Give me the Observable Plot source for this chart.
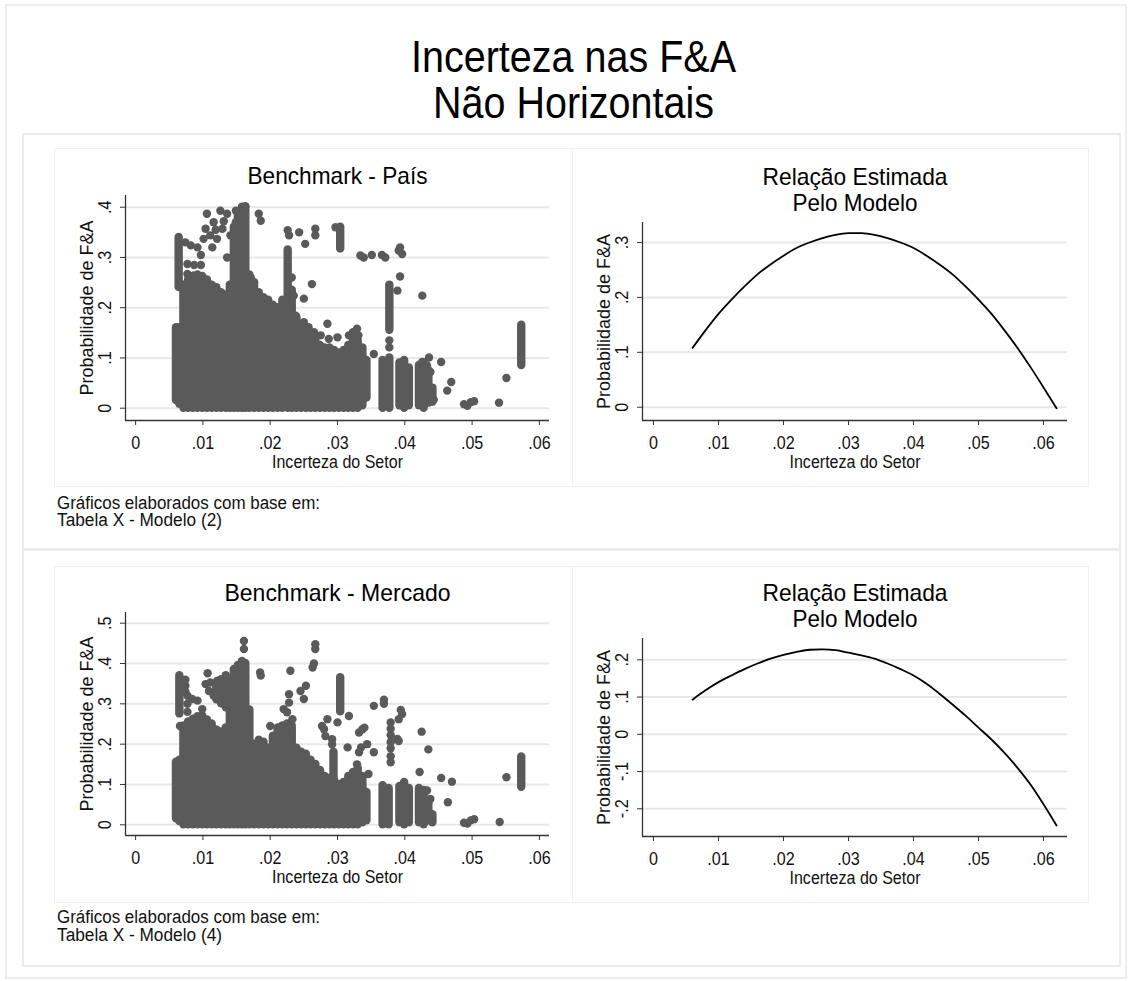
<!DOCTYPE html>
<html><head><meta charset="utf-8">
<script src="https://cdn.jsdelivr.net/npm/d3@7"></script>
<script src="https://cdn.jsdelivr.net/npm/@observablehq/plot@0.6"></script>
<style>
html,body{margin:0;padding:0;background:#fff;}
#root{position:relative;width:1131px;height:981px;overflow:hidden;font-family:"Liberation Sans",Arial,sans-serif;}
.box{position:absolute;box-sizing:border-box;}
.cell{position:absolute;}
</style></head><body><div id="root"></div>
<script>
// ---------------- DATA ----------------
const mainTitle = ["Incerteza nas F&A", "Não Horizontais"];
const panelTitles = ["Benchmark - País", "Relação Estimada\nPelo Modelo", "Benchmark - Mercado", "Relação Estimada\nPelo Modelo"];
const notes1 = ["Gráficos elaborados com base em:", "Tabela X - Modelo (2)"];
const notes2 = ["Gráficos elaborados com base em:", "Tabela X - Modelo (4)"];
const xTitle = "Incerteza do Setor";
const yTitle = "Probabilidade de F&A";

const xTicks = [0, 0.01, 0.02, 0.03, 0.04, 0.05, 0.06];
const paisYTicks = [0, 0.1, 0.2, 0.3, 0.4];
const paisFitYTicks = [0, 0.1, 0.2, 0.3];
const mercadoYTicks = [0, 0.1, 0.2, 0.3, 0.4, 0.5];
const mercadoFitYTicks = [-0.2, -0.1, 0, 0.1, 0.2];

// scatter: vertical runs of overlapping points [x, yLow, yHigh]
const paisStripes = [
  [0.006,0.015,0.16],[0.0065,0.008,0.16],[0.0064,0.24,0.34],[0.0071,0,0.245],[0.0078,0,0.255],
  [0.0085,0,0.262],[0.0092,0,0.265],[0.0099,0,0.262],[0.0106,0,0.255],[0.0113,0,0.245],
  [0.012,0,0.24],[0.0127,0,0.23],[0.0134,0,0.225],[0.014,0,0.245],[0.0146,0,0.36],
  [0.0152,0,0.385],[0.0158,0,0.40],[0.0163,0,0.40],[0.0169,0,0.265],[0.0176,0,0.25],
  [0.0183,0,0.23],[0.019,0,0.22],[0.0197,0,0.215],[0.0204,0,0.205],[0.0211,0,0.2],
  [0.0218,0,0.215],[0.0226,0,0.315],[0.0232,0,0.235],[0.0239,0,0.18],[0.0246,0,0.165],
  [0.0253,0,0.15],[0.026,0,0.145],[0.0267,0,0.14],[0.0274,0,0.125],[0.0281,0,0.12],
  [0.0288,0,0.12],[0.0295,0,0.115],[0.0302,0,0.11],[0.0309,0,0.115],[0.0316,0,0.125],
  [0.0323,0,0.15],[0.033,0,0.135],[0.0337,0.005,0.12],[0.0343,0.02,0.095],
  [0.0304,0.317,0.36],[0.0367,0,0.095],[0.0377,0,0.10],[0.0377,0.155,0.245],
  [0.0392,0.005,0.09],[0.0399,0,0.095],[0.0406,0.005,0.08],[0.0421,0.005,0.085],
  [0.0428,0,0.09],[0.0435,0.01,0.075],[0.0441,0.012,0.04],[0.0573,0.085,0.165]
];
const paisDots = [
  [0.0074,0.33],[0.0082,0.324],[0.0092,0.32],[0.0097,0.305],[0.0077,0.287],[0.0087,0.285],
  [0.0097,0.285],[0.0077,0.267],[0.0087,0.264],
  [0.0106,0.387],[0.0126,0.393],[0.0136,0.387],[0.0149,0.393],[0.0163,0.402],[0.0116,0.37],
  [0.0104,0.357],[0.0101,0.337],[0.0111,0.344],[0.0121,0.337],[0.0114,0.32],[0.0129,0.357],
  [0.0141,0.344],[0.0149,0.37],[0.0156,0.377],[0.0136,0.30],[0.0183,0.387],[0.0186,0.373],
  [0.0131,0.372],[0.0119,0.355],
  [0.0171,0.26],[0.0176,0.25],[0.0186,0.22],[0.0196,0.21],
  [0.0228,0.344],[0.0226,0.354],[0.0243,0.35],[0.0252,0.327],[0.0267,0.357],[0.0267,0.344],
  [0.0297,0.36],[0.0262,0.247],[0.025,0.218],[0.0235,0.224],[0.0238,0.184],[0.0232,0.26],
  [0.025,0.171],[0.0257,0.161],[0.0265,0.151],[0.0275,0.145],[0.0285,0.168],[0.0287,0.138],
  [0.03,0.141],[0.0317,0.145],[0.0329,0.158],[0.0331,0.145],
  [0.0334,0.304],[0.0339,0.30],[0.0351,0.305],[0.0366,0.305],[0.0371,0.30],[0.0391,0.314],
  [0.0396,0.307],[0.0393,0.32],
  [0.0393,0.262],[0.0389,0.234],[0.0377,0.135],[0.0377,0.121],[0.0354,0.108],[0.0426,0.224],
  [0.0436,0.101],[0.0454,0.092],[0.0438,0.072],[0.0443,0.017],[0.0463,0.035],[0.0469,0.052],
  [0.0488,0.008],[0.0493,0.005],[0.0498,0.012],[0.0503,0.014],[0.054,0.011],[0.0551,0.06],
  [0.0426,0.092],[0.0433,0.085]
];
const mercadoStripes = [
  [0.006,0.015,0.155],[0.0065,0.008,0.16],[0.0065,0.275,0.37],[0.0071,0,0.245],[0.0078,0,0.255],
  [0.0085,0,0.262],[0.0092,0,0.268],[0.0099,0,0.27],[0.0106,0,0.26],[0.0113,0,0.25],
  [0.012,0,0.235],[0.0127,0,0.23],[0.0134,0,0.24],[0.012,0.31,0.345],[0.0127,0.30,0.36],
  [0.0134,0.29,0.37],[0.014,0,0.34],[0.0146,0,0.385],[0.0152,0,0.395],[0.0158,0,0.405],
  [0.0163,0,0.40],[0.0169,0,0.285],[0.0176,0,0.2],[0.0183,0,0.21],[0.019,0,0.205],
  [0.0197,0,0.19],[0.0204,0,0.22],[0.0211,0,0.24],[0.0218,0,0.245],[0.0225,0,0.25],
  [0.0232,0,0.245],[0.0239,0,0.19],[0.0246,0,0.18],[0.0253,0,0.175],[0.026,0,0.16],
  [0.0267,0,0.15],[0.0274,0,0.135],[0.0281,0,0.12],[0.0288,0,0.115],[0.0295,0,0.11],
  [0.0302,0,0.1],[0.0309,0,0.105],[0.0316,0,0.12],[0.0323,0,0.13],[0.033,0,0.14],
  [0.0337,0.005,0.12],[0.0343,0.01,0.08],[0.0304,0.28,0.365],[0.0294,0.11,0.18],
  [0.0367,0,0.097],[0.0376,0,0.09],[0.0392,0.005,0.095],[0.0399,0,0.105],[0.0406,0.005,0.09],
  [0.0421,0.005,0.09],[0.0428,0,0.085],[0.0435,0.01,0.06],[0.0441,0.005,0.025],[0.0573,0.093,0.168]
];
const mercadoDots = [
  [0.0074,0.36],[0.0074,0.345],[0.0074,0.33],[0.0077,0.32],[0.0077,0.30],[0.0077,0.28],
  [0.0084,0.312],[0.0092,0.308],[0.0099,0.287],[0.0066,0.245],[0.0107,0.376],[0.0104,0.349],
  [0.0111,0.353],[0.0109,0.332],[0.0116,0.32],[0.0121,0.357],[0.0161,0.436],[0.0161,0.456],
  [0.0185,0.378],[0.0186,0.37],[0.02,0.245],
  [0.023,0.382],[0.0267,0.448],[0.0267,0.436],[0.0265,0.40],[0.0263,0.39],[0.0253,0.345],
  [0.0245,0.332],[0.025,0.312],[0.0228,0.324],[0.0228,0.303],[0.022,0.287],[0.0225,0.279],
  [0.0233,0.262],
  [0.0317,0.27],[0.03,0.254],[0.0285,0.262],[0.0277,0.245],[0.028,0.237],[0.0282,0.22],
  [0.0292,0.212],[0.0292,0.2],[0.0315,0.192],[0.0335,0.192],[0.0332,0.18],[0.0329,0.15],
  [0.0332,0.229],[0.0337,0.237],[0.034,0.241],[0.0344,0.2],[0.0354,0.18],[0.0346,0.126],
  [0.0354,0.295],[0.0369,0.31],[0.0369,0.30],[0.0394,0.285],[0.0396,0.275],[0.0391,0.262],
  [0.0389,0.213],[0.0391,0.208],
  [0.0379,0.254],[0.0379,0.238],[0.0379,0.222],[0.0379,0.205],[0.0379,0.19],[0.0379,0.17],[0.0379,0.155],
  [0.0425,0.231],[0.0435,0.187],[0.0422,0.131],[0.0454,0.116],[0.047,0.107],[0.0464,0.056],
  [0.0438,0.064],[0.0488,0.005],[0.0493,0.003],[0.0498,0.011],[0.0503,0.014],[0.0541,0.007],
  [0.0551,0.118],[0.0433,0.085]
];

// estimated relation
const modelX = [0.006,0.008,0.010,0.012,0.014,0.016,0.018,0.020,0.022,0.024,0.026,0.028,0.030,0.032,0.034,
  0.036,0.038,0.040,0.042,0.044,0.046,0.048,0.050,0.052,0.054,0.056,0.058,0.060,0.062];
const paisFit = [0.108,0.140,0.170,0.196,0.220,0.242,0.260,0.276,0.290,0.300,0.308,0.314,0.317,0.317,0.314,
  0.308,0.300,0.290,0.276,0.260,0.242,0.220,0.196,0.170,0.140,0.108,0.073,0.036,-0.002];
const mercadoFit = [0.093,0.118,0.140,0.158,0.175,0.190,0.203,0.213,0.221,0.227,0.228,0.226,0.219,0.212,0.203,
  0.190,0.175,0.158,0.136,0.109,0.080,0.050,0.018,-0.014,-0.050,-0.090,-0.135,-0.188,-0.245];

// ---------------- STYLE ----------------
const FONT = "'Liberation Sans', Arial, Helvetica, sans-serif";
const DOT = "#5a5a5a", GRID = "#e7e7e7", AXIS = "#333333", BORDER = "#ececec";
const textWidths = {
  "Incerteza nas F&A": 325, "Não Horizontais": 281,
  "Gráficos elaborados com base em:": 263, "Tabela X - Modelo (2)": 165, "Tabela X - Modelo (4)": 165,
  "Benchmark - País": 180, "Benchmark - Mercado": 226, "Relação Estimada": 185, "Pelo Modelo": 125,
  "Incerteza do Setor": 131, "Probabilidade de F&A": 175
};
const fmt = d => d === 0 ? "0" : (d < 0 ? "-" : "") + String(Math.abs(d)).replace(/^0/, "");

const root = document.getElementById("root");
function box(l, t, w, h, border) {
  const d = document.createElement("div");
  d.className = "box";
  Object.assign(d.style, {left: l + "px", top: t + "px", width: w + "px", height: h + "px", border});
  root.appendChild(d);
}
box(5, 4, 1122, 975, "2px solid #eeeeee");
box(22, 133, 1099, 417, "2px solid " + BORDER);
box(22, 549, 1099, 418, "2px solid " + BORDER);
box(54, 148, 1035, 339, "1px solid #f0f0f0");
box(54, 566, 1035, 337, "1px solid #f0f0f0");
box(572, 148, 1, 339, "none"); root.lastChild.style.background = "#f0f0f0";
box(572, 566, 1, 337, "none"); root.lastChild.style.background = "#f0f0f0";

function panel(cfg) {
  const {left, top, width, height, m, xDomain, yDomain, yTicks, title, data} = cfg;
  const marks = [
    Plot.ruleY(yTicks, {stroke: GRID, strokeWidth: 2}),
    ...data,
    Plot.ruleX([xDomain[0]], {stroke: AXIS, strokeWidth: 1.3}),
    Plot.ruleY([yDomain[0]], {stroke: AXIS, strokeWidth: 1.3}),
    Plot.axisX(xTicks, {tickSize: 5, tickFormat: () => "", stroke: AXIS, label: null}),
    Plot.axisY(yTicks, {tickSize: 5, tickFormat: () => "", stroke: AXIS, label: null}),
    Plot.text(xTicks, {x: d => d, frameAnchor: "bottom", dy: 23, text: fmt, fontSize: 17.5, lineAnchor: "middle", textAnchor: "middle", fill: "#111"}),
    Plot.text(yTicks, {y: d => d, frameAnchor: "left", dx: -20, rotate: -90, text: fmt, fontSize: 17.5, lineAnchor: "middle", textAnchor: "middle", fill: "#111"}),
    Plot.text([xTitle], {frameAnchor: "bottom", dy: 42, text: d => d, fontSize: 17.5, lineAnchor: "middle", textAnchor: "middle", fill: "#111"}),
    Plot.text([yTitle], {frameAnchor: "left", dx: -38, rotate: -90, text: d => d, fontSize: 17.5, lineAnchor: "middle", textAnchor: "middle", fill: "#111"}),
    Plot.text([title], {frameAnchor: "top", dy: -12, text: d => d, fontSize: 24, lineAnchor: "bottom", textAnchor: "middle", lineHeight: 1.08, fill: "#000"})
  ];
  const svg = Plot.plot({
    width, height, marginTop: m[0], marginRight: m[1], marginBottom: m[2], marginLeft: m[3],
    x: {domain: xDomain}, y: {domain: yDomain},
    style: {fontFamily: FONT, background: "transparent", overflow: "visible"},
    marks
  });
  const d = document.createElement("div");
  d.className = "cell";
  d.style.left = left + "px"; d.style.top = top + "px";
  d.appendChild(svg);
  root.appendChild(d);
}

const scatterMarks = (stripes, dots) => [
  Plot.ruleX(stripes, {x: d => d[0], y1: d => d[1], y2: d => d[2], stroke: DOT, strokeWidth: 8.4, strokeLinecap: "round"}),
  Plot.dot(dots, {x: d => d[0], y: d => d[1], r: 4.2, fill: DOT})
];
const fitMarks = (ys) => [
  Plot.line(modelX.map((x, i) => [x, ys[i]]), {x: d => d[0], y: d => d[1], stroke: "#000", strokeWidth: 1.8, curve: "monotone-x"})
];

panel({left: 54, top: 148, width: 518, height: 339, m: [47, 23, 67, 71],
  xDomain: [-0.0015, 0.0615], yDomain: [-0.0245, 0.4233], yTicks: paisYTicks,
  title: panelTitles[0], data: scatterMarks(paisStripes, paisDots)});
panel({left: 572, top: 148, width: 517, height: 339, m: [74, 22, 67, 70],
  xDomain: [-0.00169, 0.06369], yDomain: [-0.0242, 0.3364], yTicks: paisFitYTicks,
  title: panelTitles[1], data: fitMarks(paisFit)});
panel({left: 54, top: 566, width: 518, height: 337, m: [46, 23, 68, 71],
  xDomain: [-0.0015, 0.0615], yDomain: [-0.0265, 0.5265], yTicks: mercadoYTicks,
  title: panelTitles[2], data: scatterMarks(mercadoStripes, mercadoDots)});
panel({left: 572, top: 566, width: 517, height: 337, m: [72, 22, 67, 70],
  xDomain: [-0.00169, 0.06369], yDomain: [-0.2744, 0.2572], yTicks: mercadoFitYTicks,
  title: panelTitles[3], data: fitMarks(mercadoFit)});

// overlay: main title and notes
const ov = d3.select(root).append("svg")
  .attr("width", 1131).attr("height", 981)
  .style("position", "absolute").style("left", 0).style("top", 0).style("pointer-events", "none")
  .style("font-family", FONT);
ov.append("text").attr("x", 573.5).attr("y", 71.5).attr("text-anchor", "middle").attr("font-size", 44).text(mainTitle[0]);
ov.append("text").attr("x", 573.5).attr("y", 118).attr("text-anchor", "middle").attr("font-size", 44).text(mainTitle[1]);
[[notes1, 508.5], [notes2, 922.7]].forEach(([lines, y0]) => {
  lines.forEach((s, i) => ov.append("text").attr("x", 57).attr("y", y0 + i * 17.8).attr("font-size", 18).attr("fill", "#111").text(s));
});

// condense text like the original narrow face
root.querySelectorAll("svg text, svg tspan").forEach(el => {
  if (el.querySelector && el.querySelector("tspan")) return;
  const s = el.textContent;
  if (!s) return;
  const L = el.getComputedTextLength();
  if (!(L > 0)) return;
  const target = textWidths[s] !== undefined ? textWidths[s] : L * 0.92;
  el.setAttribute("textLength", target);
  el.setAttribute("lengthAdjust", "spacingAndGlyphs");
});
</script></body></html>
